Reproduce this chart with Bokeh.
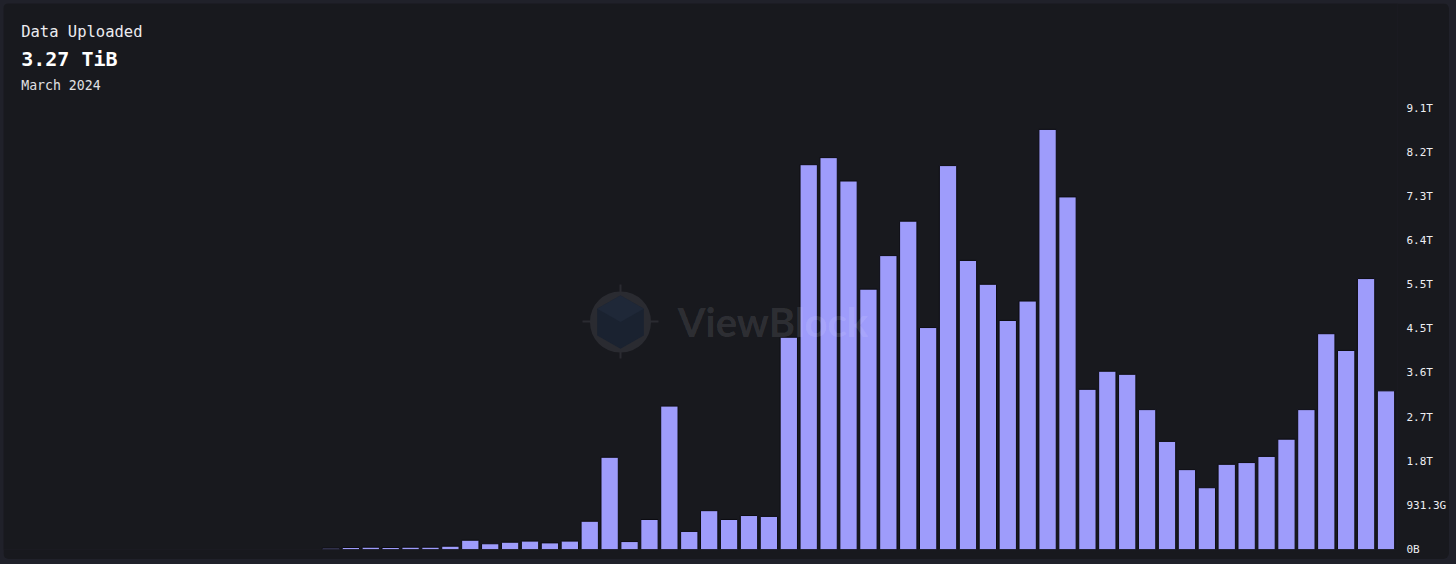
import pandas as pd
from bokeh.plotting import figure
from bokeh.models import (ColumnDataSource, Range1d, FixedTicker, Label,
                          BoxAnnotation, PolyAnnotation, GlobalInlineStyleSheet)
from bokeh.embed import file_html
from bokeh.resources import INLINE

# ---------------- data ----------------
months = [str(m) for m in pd.period_range("2019-10", "2024-03", freq="M")]
uploaded_tb = [0.03, 0.045, 0.052, 0.045, 0.052, 0.052, 0.075, 0.21, 0.13, 0.165,
               0.19, 0.15, 0.19, 0.64, 2.09, 0.18, 0.68, 3.25, 0.41, 0.88,
               0.68, 0.77, 0.75, 4.81, 8.72, 8.88, 8.35, 5.90, 6.66, 7.44,
               5.03, 8.70, 6.55, 6.01, 5.19, 5.63, 9.52, 7.99, 3.63, 4.04,
               3.97, 3.17, 2.45, 1.81, 1.40, 1.93, 1.97, 2.11, 2.50, 3.17,
               4.89, 4.51, 6.14, 3.595]
tick_values_tb = [0, 1, 2, 3, 4, 5, 6, 7, 8, 9, 10]
tick_labels = ["0B", "931.3G", "1.8T", "2.7T", "3.6T", "4.5T",
               "5.5T", "6.4T", "7.3T", "8.2T", "9.1T"]
title_text = "Data Uploaded"
value_text = "3.27 TiB"
period_text = "March 2024"

CARD = "#18191e"
OUTER = "#20212a"
BAR = "#9e9cfb"
MONO = "DejaVu Sans Mono"

src = ColumnDataSource(dict(x=list(range(len(months))), month=months, top=uploaded_tb))

p = figure(width=1446, height=556, output_backend="svg", toolbar_location=None,
           x_range=Range1d(-16.45, 53.578), y_range=Range1d(0, 12.373),
           x_axis_location=None, y_axis_location="right",
           min_border_left=0, min_border_top=0, min_border_bottom=10, min_border_right=52,
           background_fill_color=CARD, border_fill_color=CARD, outline_line_color=None)
p.stylesheets = [GlobalInlineStyleSheet(css=f"body{{background:{OUTER};padding:3px;}}")]
p.styles = {"border-radius": "6px", "overflow": "hidden"}
p.grid.visible = False

ax = p.yaxis[0]
ax.ticker = FixedTicker(ticks=tick_values_tb)
ax.major_label_overrides = dict(zip(tick_values_tb, tick_labels))
ax.axis_line_color = None
ax.major_tick_line_color = None
ax.minor_tick_line_color = None
ax.major_tick_out = 0
ax.major_tick_in = 0
ax.major_label_standoff = 9
ax.major_label_text_font = MONO
ax.major_label_text_font_size = "11px"
ax.major_label_text_color = "#eeeef2"

p.vbar(x="x", top="top", width=0.87, source=src,
       fill_color=BAR, line_color="#0c0c11", line_width=1)

# ---------------- watermark (screen units, frame relative) ----------------
LOGO = "#2a2b31"
p.add_layout(BoxAnnotation(left=579, right=655, bottom=227, top=229,
                           left_units="screen", right_units="screen",
                           bottom_units="screen", top_units="screen",
                           fill_color=LOGO, fill_alpha=1, line_color=None))
p.add_layout(BoxAnnotation(left=616, right=618, bottom=191, top=265,
                           left_units="screen", right_units="screen",
                           bottom_units="screen", top_units="screen",
                           fill_color=LOGO, fill_alpha=1, line_color=None))
p.add_layout(BoxAnnotation(left=586.5, right=647.5, bottom=197, top=258,
                           left_units="screen", right_units="screen",
                           bottom_units="screen", top_units="screen",
                           border_radius=30,
                           fill_color=LOGO, fill_alpha=1, line_color=None))
cx, cy = 617, 227.4
p.add_layout(PolyAnnotation(xs=[617, 640.3, 640.3, 617, 593.7, 593.7],
                            ys=[254, 240.7, 214, 200.7, 214, 240.7],
                            xs_units="screen", ys_units="screen",
                            fill_color="#1a2230", fill_alpha=1, line_color=None))
p.add_layout(PolyAnnotation(xs=[617, 640.3, cx, 593.7],
                            ys=[254, 240.7, cy, 240.7],
                            xs_units="screen", ys_units="screen",
                            fill_color="#1f2838", fill_alpha=1, line_color=None))
p.add_layout(Label(x=674.3, y=227.5, x_units="screen", y_units="screen",
                   text="ViewBlock", text_font="Lato", text_font_style="bold",
                   text_font_size="40px", text_color="white", text_alpha=0.11,
                   text_baseline="middle", text_align="left"))

# ---------------- header texts ----------------
p.add_layout(Label(x=17.7, y=517.2, x_units="screen", y_units="screen",
                   text=title_text, text_font=MONO, text_font_size="15.5px",
                   text_color="#ececf0", text_baseline="middle"))
p.add_layout(Label(x=17.7, y=490.3, x_units="screen", y_units="screen",
                   text=value_text, text_font=MONO, text_font_style="bold",
                   text_font_size="20px", text_color="#ffffff",
                   text_baseline="middle"))
p.add_layout(Label(x=17.7, y=464.3, x_units="screen", y_units="screen",
                   text=period_text, text_font=MONO, text_font_size="13.2px",
                   text_color="#e0e0e4", text_baseline="middle"))

open("out.html", "w").write(file_html(p, INLINE))
